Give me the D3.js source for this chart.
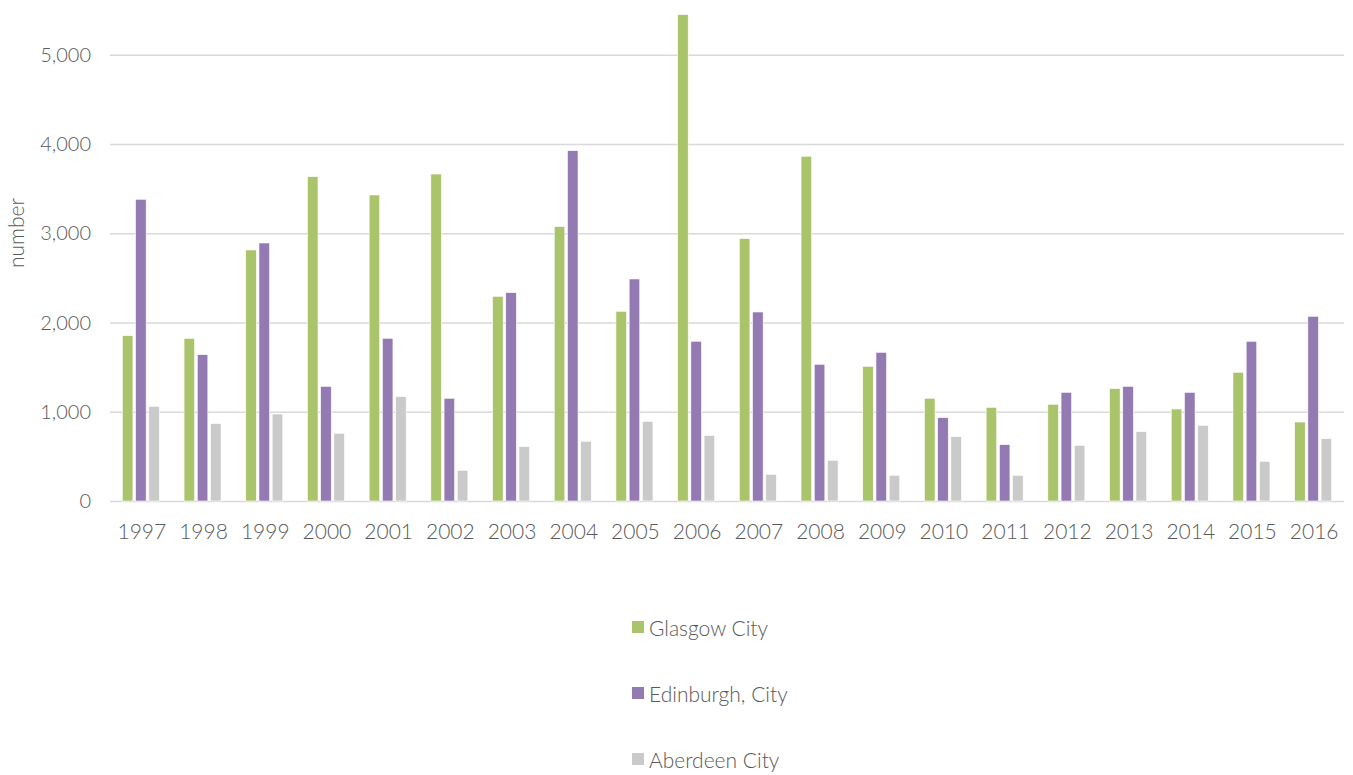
<!DOCTYPE html>
<html>
<head>
<meta charset="utf-8">
<script src="https://cdn.jsdelivr.net/npm/d3@7"></script>
<style>
  body { margin: 0; background: #fff; }
  text { font-family: Lato, "Open Sans", sans-serif; font-weight: 300; fill: #595959; }
  .grid line { stroke: #d9d9d9; stroke-width: 1.5; }
  .grid .domain { display: none; }
</style>
</head>
<body>
<script>
// categories and series
var years = ["1997","1998","1999","2000","2001","2002","2003","2004","2005","2006",
             "2007","2008","2009","2010","2011","2012","2013","2014","2015","2016"];
var series = ["Glasgow City", "Edinburgh, City", "Aberdeen City"];
var colours = ["#aac46b", "#937ab3", "#cacaca"];

var glasgow   = [1853,1823,2813,3635,3429,3664,2294,3075,2126,5450,2940,3863,1509,1151,1050,1084,1260,1031,1442, 885];
var edinburgh = [3381,1640,2891,1285,1823,1151,2335,3926,2488,1790,2118,1532,1666, 934, 632,1218,1285,1218,1790,2070];
var aberdeen  = [1061, 867, 975, 759,1170, 344, 609, 669, 893, 736, 299, 456, 288, 721, 288, 624, 777, 848, 445, 699];
var values = [glasgow, edinburgh, aberdeen];

var yTicks = [0, 1000, 2000, 3000, 4000, 5000];

var W = 1353, H = 775;
var margin = {left: 110, right: 9, top: 0, bottom: 274};
var width  = W - margin.left - margin.right;
var height = 501 - margin.top;

var svg = d3.select("body").append("svg")
    .attr("width", W).attr("height", H)
  .append("g")
    .attr("transform", "translate(" + margin.left + "," + margin.top + ")");

// scales
var x0 = d3.scaleBand().domain(years).range([0, width]).paddingInner(0.4).paddingOuter(0.2);
var x1 = d3.scaleBand().domain(series).range([0, x0.bandwidth()]).paddingInner(0.2);
var y  = d3.scaleLinear().domain([0, 5000]).range([height, height - 5000 * 0.08924]);

// grid lines
svg.append("g").attr("class", "grid")
    .call(d3.axisLeft(y).tickValues(yTicks).tickFormat("").tickSize(-width));

// y tick labels
svg.append("g").selectAll("text").data(yTicks).join("text")
    .attr("x", -19).attr("y", d => y(d)).attr("dy", "0.35em")
    .style("text-anchor", "end").style("font-size", "20px")
    .text(d => d3.format(",")(d));

// x tick labels
svg.append("g").selectAll("text").data(years).join("text")
    .attr("x", d => x0(d) + x0.bandwidth() / 2 + 1).attr("y", height + 38)
    .style("text-anchor", "middle").style("font-size", "21px")
    .text(d => d);

// y axis label
svg.append("text")
    .attr("transform", "rotate(-90)")
    .attr("x", -233).attr("y", -86)
    .style("text-anchor", "middle").style("font-size", "21px")
    .text("number");

// bars
var groups = svg.append("g").selectAll("g").data(years).join("g")
    .attr("transform", d => "translate(" + x0(d) + ",0)");
groups.selectAll("rect")
    .data((d, i) => series.map((s, k) => ({s: s, k: k, v: values[k][i]})))
  .join("rect")
    .attr("x", d => x1(d.s))
    .attr("y", d => y(d.v))
    .attr("width", x1.bandwidth())
    .attr("height", d => y(0) - y(d.v))
    .attr("fill", d => colours[d.k])
    .attr("stroke", "#fff").attr("stroke-width", 0.6);

// legend
var legend = d3.select("svg").append("g")
    .attr("transform", "translate(632,621)");
var item = legend.selectAll("g").data(series).join("g")
    .attr("transform", (d, i) => "translate(0," + i * 66 + ")");
item.append("rect")
    .attr("width", 12).attr("height", 12)
    .attr("fill", (d, i) => colours[i]);
item.append("text")
    .attr("x", 17).attr("y", 8).attr("dy", "0.35em")
    .style("font-size", "21px")
    .text(d => d);
</script>
</body>
</html>
